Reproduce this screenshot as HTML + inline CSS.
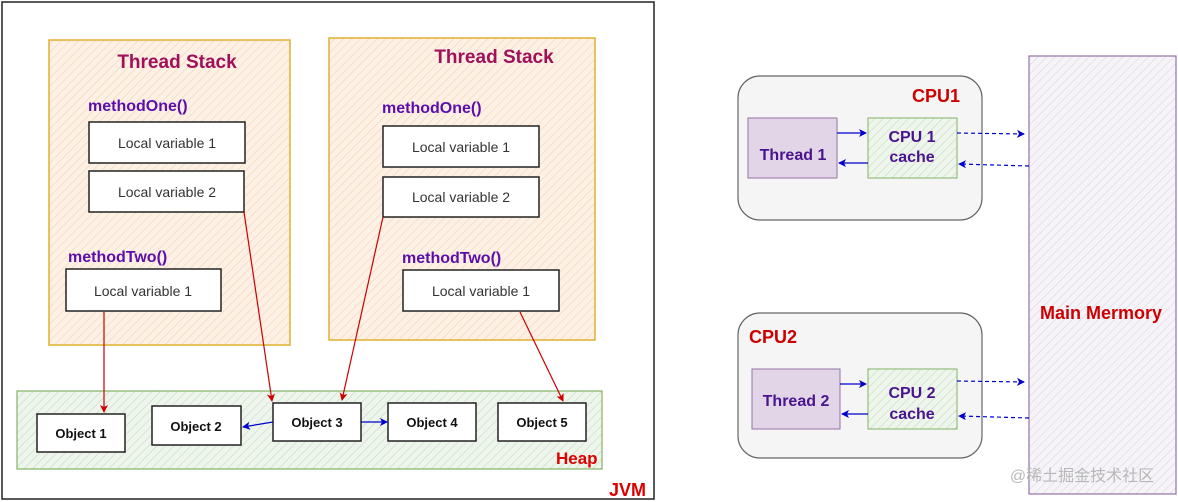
<!DOCTYPE html>
<html><head><meta charset="utf-8"><style>body{margin:0;background:#fff}svg{display:block}text{font-family:"Liberation Sans","Noto Sans CJK SC",sans-serif}</style></head><body>
<svg width="1178" height="502" viewBox="0 0 1178 502" xmlns="http://www.w3.org/2000/svg">
<defs>
<pattern id="po" width="6" height="6" patternUnits="userSpaceOnUse" patternTransform="rotate(45)"><rect width="6" height="6" fill="#fdf1e6"/><line x1="0" y1="0" x2="0" y2="6" stroke="#f6d2b0" stroke-width="1.2"/></pattern>
<pattern id="pg" width="6" height="6" patternUnits="userSpaceOnUse" patternTransform="rotate(45)"><rect width="6" height="6" fill="#eef5ec"/><line x1="0" y1="0" x2="0" y2="6" stroke="#c6dcc0" stroke-width="1.2"/></pattern>
<pattern id="pp" width="6" height="6" patternUnits="userSpaceOnUse" patternTransform="rotate(45)"><rect width="6" height="6" fill="#f6f4f8"/><line x1="0" y1="0" x2="0" y2="6" stroke="#dcd6e2" stroke-width="1.2"/></pattern>
<marker id="ar" markerWidth="8" markerHeight="8" refX="7" refY="4" orient="auto" markerUnits="userSpaceOnUse"><path d="M0,0 L8,4 L0,8 L2,4Z" fill="#cc0000"/></marker>
<marker id="ab" markerWidth="8" markerHeight="8" refX="7" refY="4" orient="auto" markerUnits="userSpaceOnUse"><path d="M0,0 L8,4 L0,8 L2,4Z" fill="#0000cc"/></marker>
</defs>
<rect x="2" y="2" width="652" height="497" fill="#fff" stroke="#222" stroke-width="1.5"/>
<rect x="49" y="40" width="241" height="305" fill="url(#po)" stroke="#e0b030" stroke-width="1.5"/>
<rect x="329" y="38" width="266" height="302" fill="url(#po)" stroke="#e0b030" stroke-width="1.5"/>
<rect x="17" y="391" width="585" height="78" fill="url(#pg)" stroke="#82b366" stroke-width="1.2"/>
<g font-weight="bold" fill="#a0105a" font-size="19" text-anchor="middle"><text x="177" y="68">Thread Stack</text><text x="494" y="63">Thread Stack</text></g>
<g font-weight="bold" fill="#5b0eaa" font-size="16"><text x="88" y="111">methodOne()</text><text x="382" y="113">methodOne()</text><text x="68" y="262">methodTwo()</text><text x="402" y="263">methodTwo()</text></g>
<g fill="#fff" stroke="#222" stroke-width="1.5">
<rect x="89" y="122" width="156" height="41"/><rect x="89" y="171" width="155" height="41"/><rect x="66" y="269" width="155" height="42"/>
<rect x="383" y="126" width="156" height="41"/><rect x="383" y="177" width="156" height="40"/><rect x="403" y="270" width="156" height="41"/>
<rect x="37" y="414" width="88" height="38"/><rect x="152" y="406" width="89" height="39"/><rect x="273" y="403" width="88" height="38"/><rect x="388" y="403" width="88" height="38"/><rect x="498" y="403" width="88" height="38"/>
</g>
<g fill="#333" font-size="14" text-anchor="middle">
<text x="167" y="148">Local variable 1</text><text x="167" y="197">Local variable 2</text><text x="143" y="296">Local variable 1</text>
<text x="461" y="152">Local variable 1</text><text x="461" y="202">Local variable 2</text><text x="481" y="296">Local variable 1</text>
</g>
<g fill="#111" font-size="13" font-weight="bold" text-anchor="middle">
<text x="81" y="438">Object 1</text><text x="196" y="431">Object 2</text><text x="317" y="427">Object 3</text><text x="432" y="427">Object 4</text><text x="542" y="427">Object 5</text>
</g>
<g stroke="#cc0000" stroke-width="1.2" fill="none" marker-end="url(#ar)">
<line x1="104" y1="312" x2="104" y2="412"/><line x1="244" y1="212" x2="272" y2="401"/><line x1="383" y1="217" x2="342" y2="400"/><line x1="520" y1="312" x2="563" y2="401"/>
</g>
<g stroke="#0000cc" stroke-width="1.2" marker-end="url(#ab)"><line x1="273" y1="422" x2="243" y2="427"/><line x1="361" y1="422" x2="387" y2="422"/></g>
<g font-weight="bold" fill="#dd0000"><text x="556" y="464" font-size="17">Heap</text><text x="609" y="496" font-size="18">JVM</text></g>

<rect x="738" y="76" width="244" height="144" rx="22" fill="#f5f5f5" stroke="#666" stroke-width="1.2"/>
<rect x="738" y="313" width="244" height="145" rx="22" fill="#f5f5f5" stroke="#666" stroke-width="1.2"/>
<rect x="1029" y="56" width="147" height="438" fill="url(#pp)" stroke="#9673a6" stroke-width="1.2"/>
<rect x="748" y="118" width="89" height="60" fill="#e1d5e7" stroke="#9673a6"/>
<rect x="752" y="369" width="88" height="60" fill="#e1d5e7" stroke="#9673a6"/>
<rect x="868" y="118" width="89" height="60" fill="url(#pg)" stroke="#82b366"/>
<rect x="868" y="369" width="89" height="60" fill="url(#pg)" stroke="#82b366"/>
<g font-weight="bold" fill="#cc0000" font-size="18"><text x="912" y="102">CPU1</text><text x="749" y="343">CPU2</text><text x="1101" y="319" text-anchor="middle">Main Mermory</text></g>
<g font-weight="bold" fill="#4a1490" font-size="16" text-anchor="middle">
<text x="793" y="160">Thread 1</text><text x="796" y="406">Thread 2</text>
<text x="912" y="142">CPU 1</text><text x="912" y="162">cache</text><text x="912" y="398">CPU 2</text><text x="912" y="419">cache</text>
</g>
<g stroke="#0000cc" stroke-width="1.2" marker-end="url(#ab)">
<line x1="837" y1="133" x2="866" y2="133"/><line x1="868" y1="163" x2="839" y2="163"/>
<line x1="840" y1="384" x2="866" y2="384"/><line x1="868" y1="414" x2="842" y2="414"/>
<g stroke-dasharray="4,3"><line x1="957" y1="133" x2="1024" y2="134"/><line x1="1029" y1="166" x2="959" y2="164"/><line x1="957" y1="381" x2="1024" y2="382"/><line x1="1029" y1="418" x2="959" y2="416"/></g>
</g>
<text x="1082" y="481" font-size="16" fill="#b8b8b8" text-anchor="middle">@稀土掘金技术社区</text>
</svg>
</body></html>
